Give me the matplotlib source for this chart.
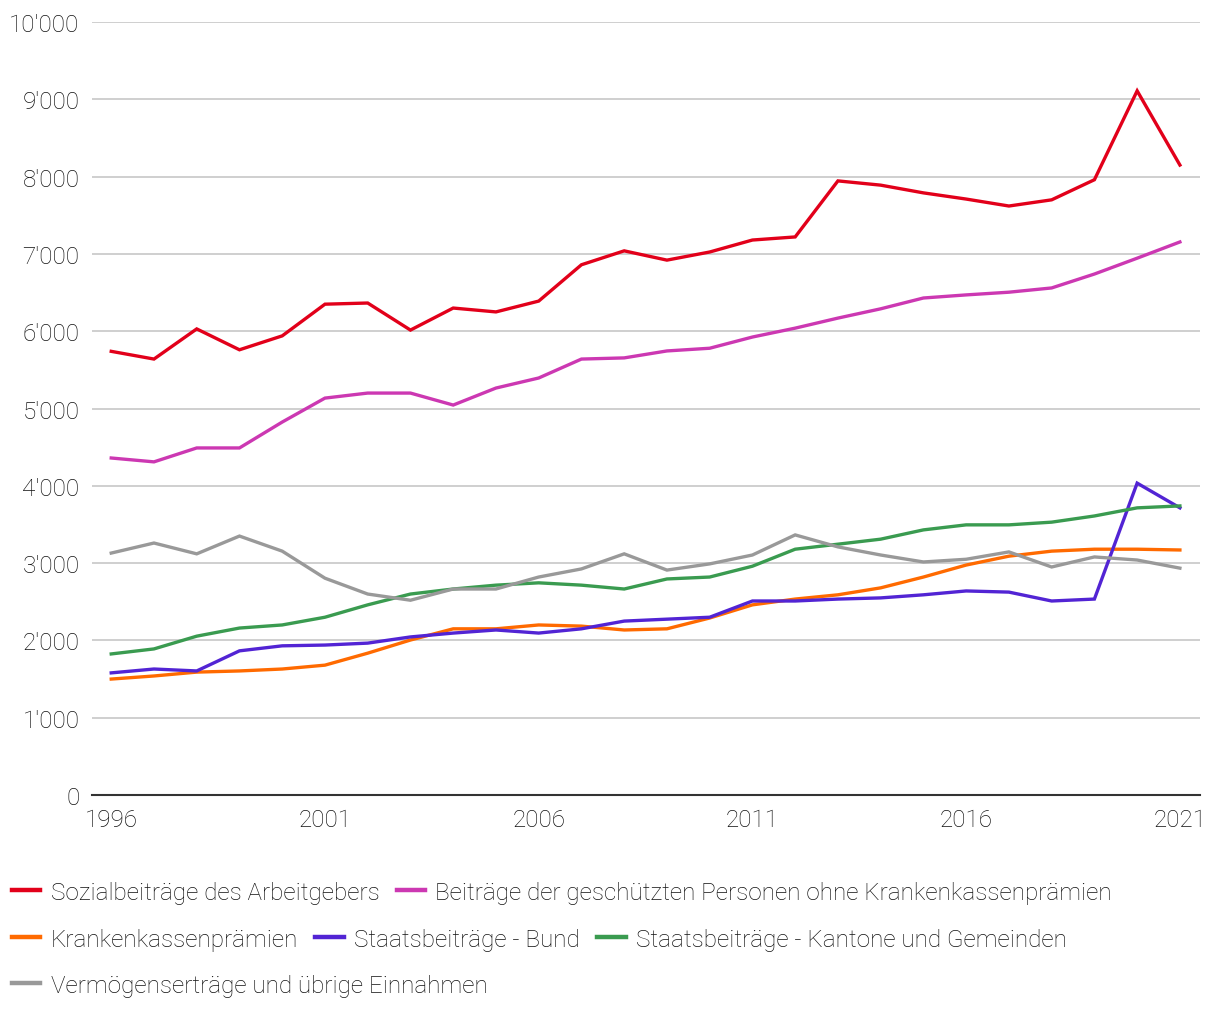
import numpy as np
import matplotlib
matplotlib.use('Agg')
import matplotlib.pyplot as plt
import matplotlib.ticker as pltick
from matplotlib.lines import Line2D

plt.rcParams['font.family'] = ['Roboto', 'DejaVu Sans']

years = list(range(1996, 2022))

# values (in Mio. CHF)
arbeitgeber = [5740, 5640, 6030, 5760, 5940, 6350, 6365, 6015, 6300, 6250, 6390, 6860, 7040,
               6920, 7025, 7180, 7220, 7945, 7890, 7790, 7710, 7620, 7700, 7960, 9110, 8150]
versicherte = [4360, 4310, 4490, 4490, 4825, 5135, 5200, 5200, 5045, 5265, 5395, 5640, 5655,
               5745, 5780, 5925, 6040, 6170, 6290, 6430, 6470, 6505, 6560, 6740, 6945, 7155]
praemien = [1500, 1540, 1590, 1605, 1630, 1680, 1835, 2005, 2150, 2150, 2200, 2185, 2135,
            2150, 2290, 2460, 2535, 2590, 2680, 2820, 2975, 3090, 3155, 3180, 3180, 3170]
bund = [1580, 1630, 1605, 1865, 1930, 1940, 1965, 2045, 2095, 2135, 2095, 2150, 2250,
        2275, 2300, 2510, 2510, 2535, 2550, 2590, 2640, 2625, 2510, 2535, 4035, 3715]
kantone = [1825, 1890, 2055, 2160, 2200, 2300, 2460, 2600, 2665, 2715, 2745, 2715, 2665,
           2795, 2820, 2960, 3180, 3245, 3310, 3430, 3495, 3495, 3530, 3610, 3715, 3740]
vermoegen = [3130, 3260, 3120, 3350, 3155, 2805, 2600, 2520, 2665, 2665, 2820, 2925, 3120,
             2910, 2990, 3105, 3365, 3210, 3105, 3015, 3050, 3145, 2950, 3080, 3040, 2935]

series = [
    ("Sozialbeiträge des Arbeitgebers", arbeitgeber, '#e2001a'),
    ("Beiträge der geschützten Personen ohne Krankenkassenprämien", versicherte, '#cc38b2'),
    ("Krankenkassenprämien", praemien, '#ff6a00'),
    ("Staatsbeiträge - Bund", bund, '#5224d4'),
    ("Staatsbeiträge - Kantone und Gemeinden", kantone, '#3a9b50'),
    ("Vermögenserträge und übrige Einnahmen", vermoegen, '#999999'),
]
# drawing order: lower series first so red/magenta sit on top
draw_order = [5, 4, 2, 3, 1, 0]

fs = 17.5
txt_col = '#111111'

fig = plt.figure(figsize=(12.2, 10.2), dpi=100)
ax = fig.add_axes([0.0754, 0.2196, 0.9082, 0.7578])

for i in draw_order:
    name, vals, col = series[i]
    ax.plot(years, vals, color=col, lw=2.4, solid_joinstyle='miter', zorder=3 + i)

ax.set_xlim(1995.55, 2021.47)
ax.set_ylim(0, 10000)
ax.set_yticks(np.arange(0, 10001, 1000))
ax.set_xticks([1996, 2001, 2006, 2011, 2016, 2021])
ax.yaxis.set_major_formatter(pltick.FuncFormatter(lambda v, p: f"{int(v):,}".replace(",", "'")))
ax.grid(axis='y', color='#cccccc', lw=1.3)
ax.set_axisbelow(True)
for s in ['top', 'right', 'left']:
    ax.spines[s].set_visible(False)
ax.spines['bottom'].set_color('#333333')
ax.spines['bottom'].set_linewidth(1.5)
ax.spines['bottom'].set_zorder(10)
ax.tick_params(axis='both', length=0, labelsize=fs, labelcolor=txt_col)
ax.tick_params(axis='y', pad=9)
ax.tick_params(axis='x', pad=9)
for lab in ax.get_xticklabels() + ax.get_yticklabels():
    lab.set_fontweight('light')

# legend rows, laid out like a wrapped flow
rows = [[0, 1], [2, 3, 4], [5]]
row_y = [0.1245, 0.0784, 0.0333]
for r, y in zip(rows, row_y):
    handles = [Line2D([], [], color=series[i][2], lw=3.2) for i in r]
    labels = [series[i][0] for i in r]
    leg = fig.legend(handles, labels, loc='center left', bbox_to_anchor=(0.0098, y),
                     ncol=len(r), frameon=False, borderpad=0, borderaxespad=0,
                     handlelength=1.17, handletextpad=0.42, columnspacing=0.72,
                     prop={'size': fs, 'weight': 'light'})
    for t in leg.get_texts():
        t.set_color(txt_col)

fig.savefig('out.png', dpi=100)
